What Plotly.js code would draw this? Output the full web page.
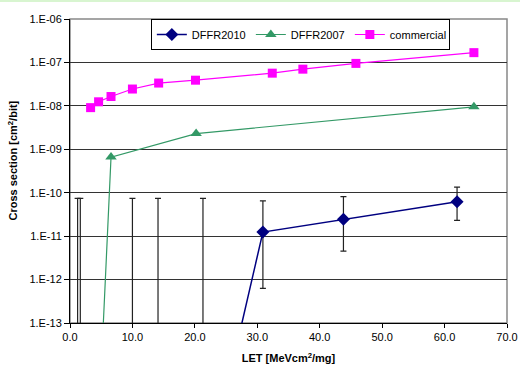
<!DOCTYPE html>
<html>
<head>
<meta charset="utf-8">
<script src="https://cdn.plot.ly/plotly-3.0.1.min.js"></script>
<style>
html,body{margin:0;padding:0;background:#fff;}
#band{width:520px;height:2px;background:#d8f5d0;}
#chart{width:520px;height:365px;}
</style>
</head>
<body>
<div id="band"></div>
<div id="chart"></div>
<script>
// DFFR2010 (points below 1e-13 are upper-limit points with error bars)
const dffr2010X = [1.22, 1.65, 10.0, 14.1, 21.3, 30.9, 43.8, 62.0];
const dffr2010Y = [1.3e-17, 1.3e-17, 1.3e-17, 1.3e-17, 1.3e-17, 1.24e-11, 2.44e-11, 6.2e-11];
const dffr2010Upper = [7.4e-11, 7.4e-11, 7.4e-11, 7.4e-11, 7.4e-11, 6.5e-11, 8.1e-11, 1.35e-10];
const dffr2010Lower = [1.3e-17, 1.3e-17, 1.3e-17, 1.3e-17, 1.3e-17, 6.3e-13, 4.5e-12, 2.3e-11];

// DFFR2007
const dffr2007X = [4.8, 6.57, 20.2, 64.7];
const dffr2007Y = [2.1e-15, 6.6e-10, 2.3e-9, 9.5e-9];

// commercial
const commercialX = [3.3, 4.58, 6.57, 10.0, 14.2, 20.1, 32.4, 37.3, 45.8, 64.7];
const commercialY = [9.1e-9, 1.24e-8, 1.64e-8, 2.44e-8, 3.35e-8, 3.9e-8, 5.66e-8, 7.0e-8, 9.5e-8, 1.68e-7];

const yTickVals = [1e-13, 1e-12, 1e-11, 1e-10, 1e-9, 1e-8, 1e-7, 1e-6];
const yTickText = ["1.E-13", "1.E-12", "1.E-11", "1.E-10", "1.E-09", "1.E-08", "1.E-07", "1.E-06"];

const fam = "'Liberation Sans', Arial, sans-serif";
const font = {family: fam, size: 11, color: "#000"};

const traces = [
  {
    name: "DFFR2010", x: dffr2010X, y: dffr2010Y, mode: "lines+markers", type: "scatter",
    line: {color: "#000080", width: 1.5},
    marker: {symbol: "diamond", size: 10, color: "#000080"},
    error_y: {
      type: "data", symmetric: false,
      array: dffr2010Upper.map((u, i) => u - dffr2010Y[i]),
      arrayminus: dffr2010Lower.map((l, i) => dffr2010Y[i] - l),
      color: "#222", thickness: 1.2, width: 3
    }
  },
  {
    name: "DFFR2007", x: dffr2007X, y: dffr2007Y, mode: "lines+markers", type: "scatter",
    line: {color: "#339966", width: 1.2},
    marker: {symbol: "triangle-up", size: 10, color: "#339966"}
  },
  {
    name: "commercial", x: commercialX, y: commercialY, mode: "lines+markers", type: "scatter",
    line: {color: "#ff00ff", width: 1.2},
    marker: {symbol: "square", size: 9, color: "#ff00ff"}
  }
];

const layout = {
  width: 520, height: 365,
  margin: {l: 70, r: 13, t: 17, b: 44},
  paper_bgcolor: "#fff", plot_bgcolor: "#fff",
  font: font,
  showlegend: true,
  legend: {
    orientation: "h", x: 0.185, y: 1.0, xanchor: "left", yanchor: "top",
    bgcolor: "#fff", bordercolor: "#000", borderwidth: 1,
    font: {family: fam, size: 11, color: "#000"},
    itemwidth: 30, entrywidth: 54, entrywidthmode: "pixels", tracegroupgap: 0
  },
  xaxis: {
    range: [0, 70], dtick: 10, tick0: 0, tickformat: ".1f",
    showgrid: false, zeroline: false,
    showline: true, linecolor: "#000", linewidth: 1,
    ticks: "outside", ticklen: 4, tickcolor: "#000",
    tickfont: font,
    title: {text: "<b>LET [MeVcm<sup>2</sup>/mg]</b>", font: font, standoff: 12}
  },
  yaxis: {
    type: "log", range: [-13, -6],
    tickvals: yTickVals, ticktext: yTickText,
    showgrid: true, gridcolor: "#333", gridwidth: 1,
    zeroline: false,
    showline: true, linecolor: "#000", linewidth: 1,
    ticks: "outside", ticklen: 5, tickcolor: "#000",
    tickfont: font
  },
  annotations: [
    {text: "<b>Cross section [cm<sup>2</sup>/bit]</b>", xref: "paper", yref: "paper",
     x: -0.13, y: 0.535, xanchor: "center", yanchor: "middle", textangle: -90,
     showarrow: false, font: font}
  ],
  shapes: [
    {type: "rect", xref: "paper", yref: "paper", x0: 0, x1: 1, y0: 0, y1: 1,
     line: {color: "#888", width: 1.5}, layer: "below"}
  ]
};

Plotly.newPlot("chart", traces, layout, {displayModeBar: false, staticPlot: true});
</script>
</body>
</html>
